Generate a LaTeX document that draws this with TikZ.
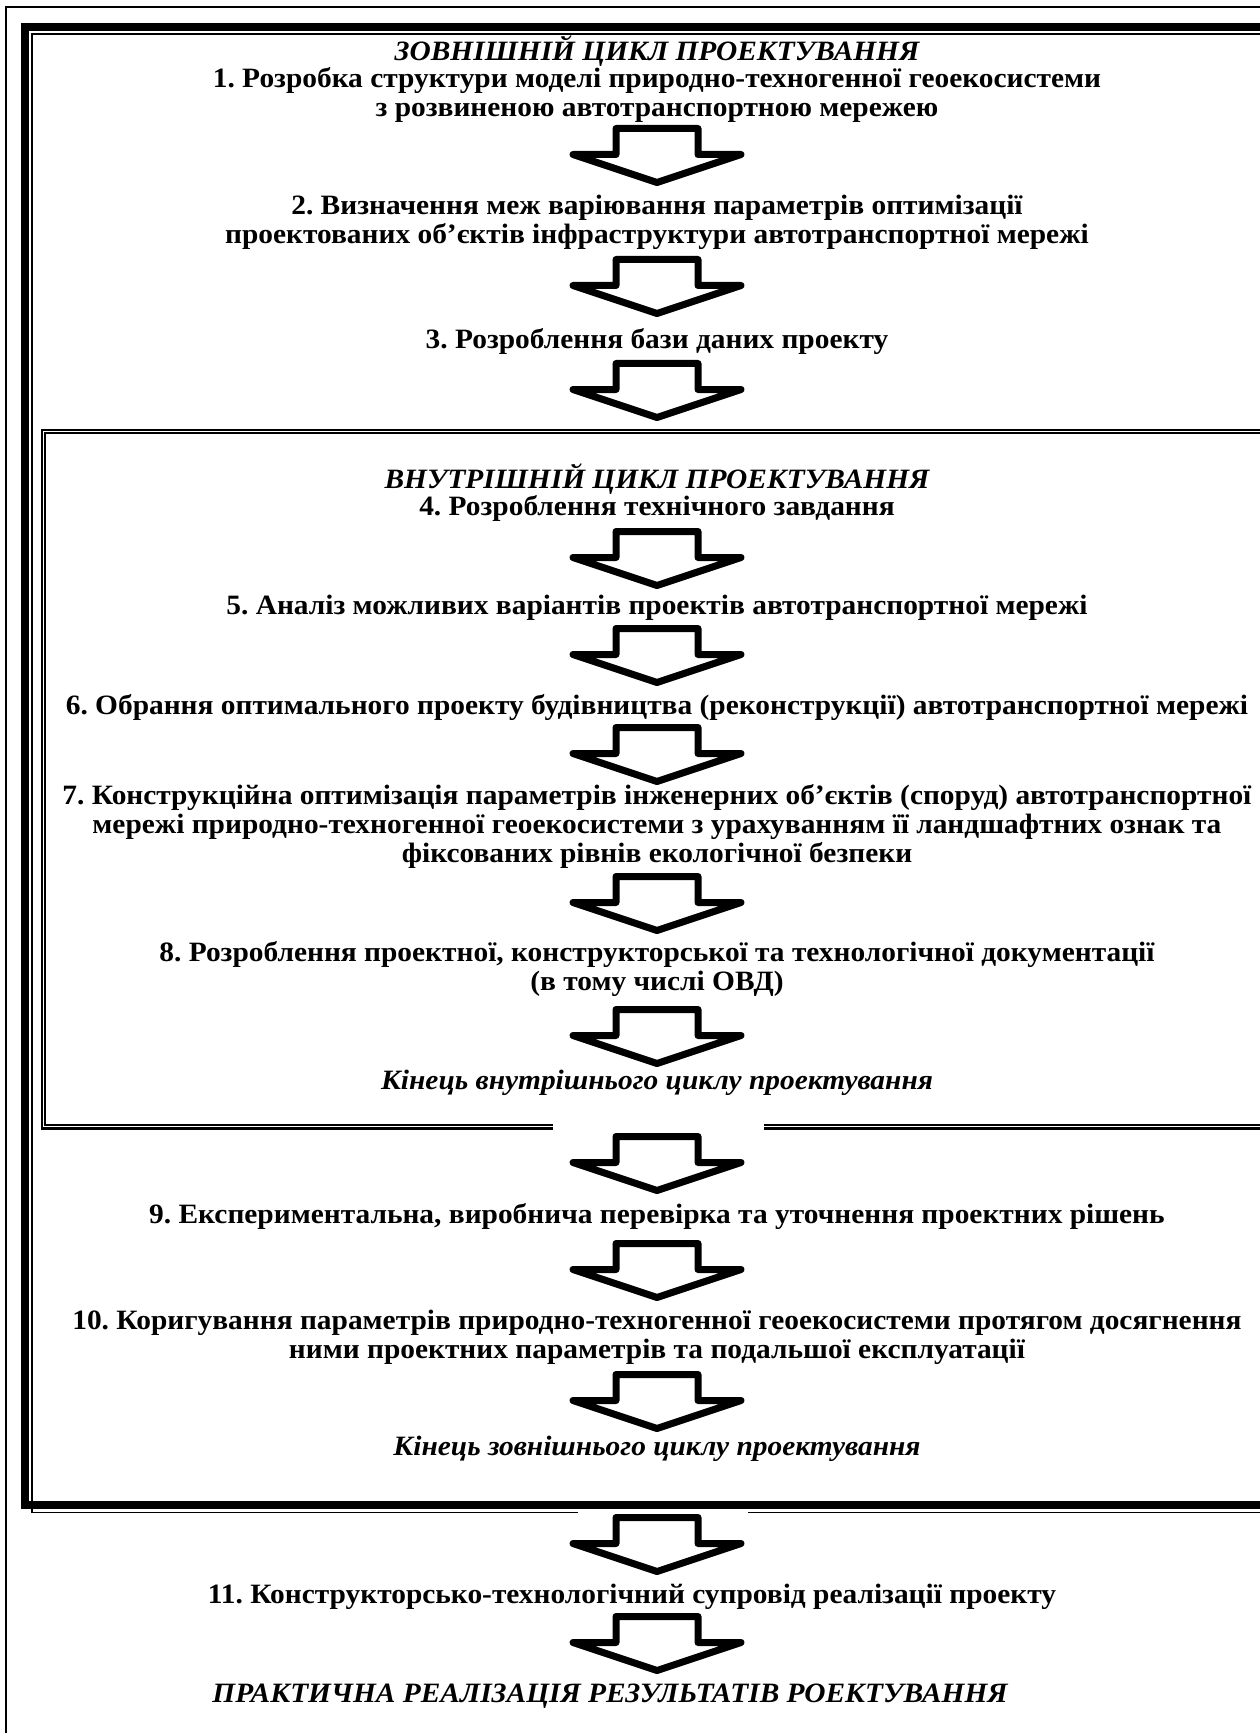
\documentclass[tikz,border=0pt]{standalone}
\usepackage{fontspec}
\setmainfont{Liberation Serif}[FakeStretch=1.05]
\frenchspacing
\tikzset{
  stagetext/.style={font=\fontsize{14}{14.5}\selectfont\bfseries, align=center, inner sep=0pt},
  cycletitle/.style={font=\fontsize{14}{14.5}\selectfont\bfseries\itshape, align=center, inner sep=0pt},
  blockarrow/.style={line width=3.5pt, line join=round}
}

\begin{document}
\begin{tikzpicture}[x=0.5pt,y=-0.5pt]
        \useasboundingbox (0,0) rectangle (1259,1733);

        % page frame
        \draw[line width=1pt] (6,1760) -- (6,7) -- (1280,7);

        % outer cycle: thick and thin line
        \draw[line width=4.25pt] (1280,1505) -- (25,1505) -- (25,27) -- (1280,27);
        \draw[line width=0.9pt] (578,1512.5) -- (32,1512.5) -- (32,34) -- (1280,34);
        \draw[line width=0.9pt] (748,1512.5) -- (1280,1512.5);

        % inner cycle: double line
        \draw[line width=1.1pt] (553,1128.5) -- (42,1128.5) -- (42,430.2) -- (1280,430.2);
        \draw[line width=1.1pt] (764,1128.5) -- (1280,1128.5);
        \draw[line width=0.9pt] (553,1125) -- (45,1125) -- (45,433.3) -- (1280,433.3);
        \draw[line width=0.9pt] (764,1125) -- (1280,1125);

        % block arrows
        \foreach \y in {125,256,360,528,625,724,873,1006,1133,1240,1371,1514,1613}
          \draw[blockarrow,shift={(657,\y+3.5)}] (-41,0) -- (41,0) -- (41,26) -- (84,26)
            -- (0,54) -- (-84,26) -- (-41,26) -- cycle;

        \node[cycletitle] (outer) at (657,51) {ЗОВНІШНІЙ ЦИКЛ ПРОЕКТУВАННЯ};
        \node[stagetext] (s1) at (657,95) {1. Розробка структури моделі природно-техногенної геоекосистеми\\
          з розвиненою автотранспортною мережею};
        \node[stagetext] (s2) at (657,222.5) {2. Визначення меж варіювання параметрів оптимізації\\
          проектованих об’єктів інфраструктури автотранспортної мережі};
        \node[stagetext] (s3) at (657,342) {3. Розроблення бази даних проекту};

        \node[cycletitle] (inner) at (657,479) {ВНУТРІШНІЙ ЦИКЛ ПРОЕКТУВАННЯ};
        \node[stagetext] (s4) at (657,508) {4. Розроблення технічного завдання};
        \node[stagetext] (s5) at (657,608) {5. Аналіз можливих варіантів проектів автотранспортної мережі};
        \node[stagetext] (s6) at (657,707) {6. Обрання оптимального проекту будівництва (реконструкції) автотранспортної мережі};
        \node[stagetext] (s7) at (657,826.5) {7. Конструкційна оптимізація параметрів інженерних об’єктів (споруд) автотранспортної\\
          мережі природно-техногенної геоекосистеми з урахуванням її ландшафтних ознак та\\
          фіксованих рівнів екологічної безпеки};
        \node[stagetext] (s8) at (657,969) {8. Розроблення проектної, конструкторської та технологічної документації\\
          (в тому числі ОВД)};
        \node[cycletitle] (innerend) at (657,1083) {Кінець внутрішнього циклу проектування};

        \node[stagetext] (s9) at (657,1216) {9. Експериментальна, виробнича перевірка та уточнення проектних рішень};
        \node[stagetext] (s10) at (657,1337) {10. Коригування параметрів природно-техногенної геоекосистеми протягом досягнення\\
          ними проектних параметрів та подальшої експлуатації};
        \node[cycletitle] (outerend) at (657,1449) {Кінець зовнішнього циклу проектування};

        \node[stagetext] (s11) at (632,1597) {11. Конструкторсько-технологічний супровід реалізації проекту};
        \node[cycletitle] (result) at (610,1696) {ПРАКТИЧНА РЕАЛІЗАЦІЯ РЕЗУЛЬТАТІВ РОЕКТУВАННЯ};

\end{tikzpicture}
\end{document}
